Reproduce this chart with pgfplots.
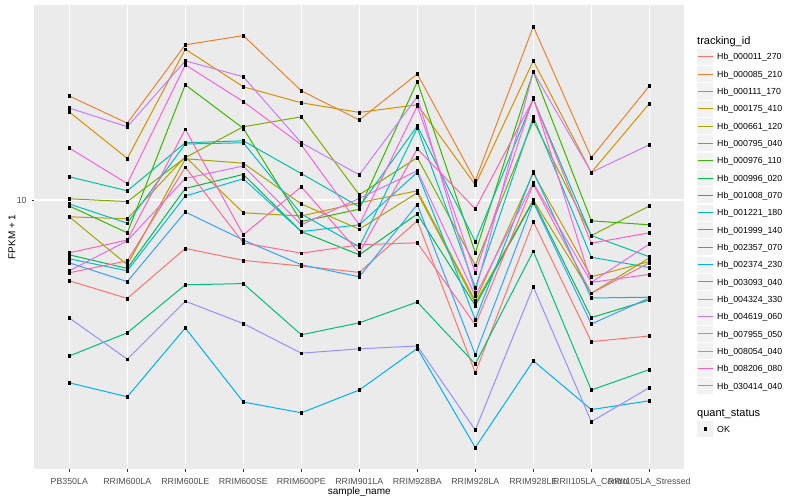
\documentclass[border=0pt]{standalone}
\usepackage{pgfplots}
\pgfplotsset{compat=1.18}
\usepackage{pgfplotstable}
\usepackage{fontspec}
\setmainfont{Liberation Sans}

% ggplot hue palette, 20 levels
\definecolor{c1}{HTML}{F8766D}
\definecolor{c2}{HTML}{EA8331}
\definecolor{c3}{HTML}{D89000}
\definecolor{c4}{HTML}{C09B00}
\definecolor{c5}{HTML}{A3A500}
\definecolor{c6}{HTML}{7CAE00}
\definecolor{c7}{HTML}{39B600}
\definecolor{c8}{HTML}{00BB4E}
\definecolor{c9}{HTML}{00BF7D}
\definecolor{c10}{HTML}{00C1A3}
\definecolor{c11}{HTML}{00BFC4}
\definecolor{c12}{HTML}{00BAE0}
\definecolor{c13}{HTML}{00B0F6}
\definecolor{c14}{HTML}{35A2FF}
\definecolor{c15}{HTML}{9590FF}
\definecolor{c16}{HTML}{C77CFF}
\definecolor{c17}{HTML}{E76BF3}
\definecolor{c18}{HTML}{FA62DB}
\definecolor{c19}{HTML}{FF62BC}
\definecolor{c20}{HTML}{FF6C91}
\definecolor{panelbg}{HTML}{EBEBEB}
\definecolor{keybg}{HTML}{F2F2F2}
\definecolor{ticktext}{HTML}{4D4D4D}
\definecolor{tickmark}{HTML}{333333}

% log10(FPKM + 1), one column per tracking_id, one row per sample
\pgfplotstableread{
x  s1    s2    s3    s4    s5    s6    s7    s8    s9    s10   s11   s12   s13   s14   s15   s16   s17   s18   s19   s20
0  0.798 1.260 1.220 0.958 0.958 1.003 0.985 0.863 0.610 1.058 0.990 0.853 0.543 0.843 0.705 1.230 0.823 1.130 0.868 0.818
1  0.754 1.192 1.104 0.953 0.838 0.996 0.918 0.829 0.668 1.023 0.942 0.823 0.508 0.796 0.602 1.183 0.898 1.041 0.900 0.848
2  0.879 1.388 1.377 1.108 1.103 1.106 1.288 1.029 0.788 1.143 1.140 1.010 0.680 0.970 0.747 1.348 1.054 1.338 1.177 1.082
3  0.849 1.411 1.283 0.968 1.092 1.183 1.179 1.064 0.791 1.148 1.143 1.053 0.495 0.900 0.691 1.308 1.085 1.246 0.913 0.893
4  0.835 1.273 1.243 0.960 0.990 1.208 0.946 0.921 0.663 1.066 0.965 0.921 0.468 0.838 0.617 1.143 0.938 1.138 1.033 0.867
5  0.819 1.200 1.219 0.993 0.927 1.013 0.977 0.863 0.693 0.983 0.883 0.938 0.525 0.808 0.628 1.063 1.004 0.938 0.868 0.888
6  0.948 1.315 1.238 1.023 1.018 1.106 1.296 0.965 0.745 1.185 1.180 1.069 0.629 0.989 0.635 1.258 1.073 1.235 1.128 0.893
7  0.568 1.048 1.038 0.748 0.742 0.837 0.868 0.736 0.590 0.896 0.781 0.701 0.381 0.613 0.425 0.769 0.760 0.818 0.978 0.688
8  0.946 1.434 1.348 1.067 1.000 1.198 1.321 0.998 0.872 1.252 1.208 1.071 0.598 0.994 0.783 1.321 1.043 1.256 1.252 1.039
9  0.646 1.106 1.069 0.808 0.767 0.911 0.948 0.706 0.525 0.911 0.857 0.755 0.476 0.690 0.446 1.069 0.794 0.794 0.892 0.767
10 0.660 1.285 1.241 0.846 0.855 0.985 0.938 0.750 0.576 0.858 0.831 0.757 0.498 0.755 0.531 1.138 0.890 0.814 0.918 0.843
}\fpkm

\begin{document}
\begin{tikzpicture}
\useasboundingbox (0,0) rectangle (800pt,500pt);

\begin{axis}[
    at={(34.5pt,31pt)}, anchor=south west,
    scale only axis,
    width=649.6pt, height=464pt,
    xmin=-0.6, xmax=10.6,
    ymin=0.3275, ymax=1.4875,
    xtick={0,...,10},
    xticklabels={PB350LA, RRIM600LA, RRIM600LE, RRIM600SE, RRIM600PE, RRIM901LA,
                 RRIM928BA, RRIM928LA, RRIM928LE, RRII105LA\_Control, RRII105LA\_Stressed},
    ytick={1}, yticklabels={10},
    xtick pos=bottom, ytick pos=left,
    tick align=outside,
    major tick length=2.75pt,
    tick style={color=tickmark, line width=0.8pt},
    ticklabel style={font=\fontsize{8.8}{10}\selectfont, text=ticktext},
    xticklabel style={anchor=base, yshift=-12.5pt},
    yticklabel style={anchor=east, inner sep=0pt, xshift=-5pt},
    axis line style={draw=none},
    axis background/.style={fill=panelbg},
    grid=major,
    major grid style={white, line width=1.1pt},
    xlabel={sample\_name},
    ylabel={FPKM + 1},
    label style={font=\fontsize{11}{13}\selectfont},
    every axis x label/.style={at={(axis description cs:0.5,-0.0539)}, anchor=base},
    every axis y label/.style={at={(axis description cs:-0.0346,0.5)}, rotate=90, anchor=center},
]

\addplot[c1,  line width=1pt] table[x=x, y=s1]  {\fpkm};
\addplot[c2,  line width=1pt] table[x=x, y=s2]  {\fpkm};
\addplot[c3,  line width=1pt] table[x=x, y=s3]  {\fpkm};
\addplot[c4,  line width=1pt] table[x=x, y=s4]  {\fpkm};
\addplot[c5,  line width=1pt] table[x=x, y=s5]  {\fpkm};
\addplot[c6,  line width=1pt] table[x=x, y=s6]  {\fpkm};
\addplot[c7,  line width=1pt] table[x=x, y=s7]  {\fpkm};
\addplot[c8,  line width=1pt] table[x=x, y=s8]  {\fpkm};
\addplot[c9,  line width=1pt] table[x=x, y=s9]  {\fpkm};
\addplot[c10, line width=1pt] table[x=x, y=s10] {\fpkm};
\addplot[c11, line width=1pt] table[x=x, y=s11] {\fpkm};
\addplot[c12, line width=1pt] table[x=x, y=s12] {\fpkm};
\addplot[c13, line width=1pt] table[x=x, y=s13] {\fpkm};
\addplot[c14, line width=1pt] table[x=x, y=s14] {\fpkm};
\addplot[c15, line width=1pt] table[x=x, y=s15] {\fpkm};
\addplot[c16, line width=1pt] table[x=x, y=s16] {\fpkm};
\addplot[c17, line width=1pt] table[x=x, y=s17] {\fpkm};
\addplot[c18, line width=1pt] table[x=x, y=s18] {\fpkm};
\addplot[c19, line width=1pt] table[x=x, y=s19] {\fpkm};
\addplot[c20, line width=1pt] table[x=x, y=s20] {\fpkm};

% points on top of all lines
\pgfplotsinvokeforeach{1,...,20}{
    \addplot[only marks, mark=square*, mark size=1.35pt, black]
        table[x=x, y=s#1] {\fpkm};
}
\end{axis}

% legend: tracking_id
\node[anchor=base west, font=\fontsize{11}{13}\selectfont, inner sep=0pt] at (697pt,455.3pt) {tracking\_id};
\foreach \c/\t [count=\i from 0] in {
    c1/Hb\_000011\_270, c2/Hb\_000085\_210, c3/Hb\_000111\_170, c4/Hb\_000175\_410,
    c5/Hb\_000661\_120, c6/Hb\_000795\_040, c7/Hb\_000976\_110, c8/Hb\_000996\_020,
    c9/Hb\_001008\_070, c10/Hb\_001221\_180, c11/Hb\_001999\_140, c12/Hb\_002357\_070,
    c13/Hb\_002374\_230, c14/Hb\_003093\_040, c15/Hb\_004324\_330, c16/Hb\_004619\_060,
    c17/Hb\_007955\_050, c18/Hb\_008054\_040, c19/Hb\_008206\_080, c20/Hb\_030414\_040} {
    \pgfmathsetmacro\yc{443.3-17.33*\i}
    \pgfmathsetmacro\ya{\yc-8.15}
    \pgfmathsetmacro\yb{\yc+8.15}
    \pgfmathsetmacro\yt{\yc-3.15}
    \fill[keybg] (697pt,\ya pt) rectangle (713.3pt,\yb pt);
    \draw[\c, line width=1pt] (697.5pt,\yc pt) -- (712.8pt,\yc pt);
    \node[anchor=base west, inner sep=0pt, font=\fontsize{8.8}{10}\selectfont] at (717pt,\yt pt) {\t};
}

% legend: quant_status
\node[anchor=base west, font=\fontsize{11}{13}\selectfont, inner sep=0pt] at (697pt,83.7pt) {quant\_status};
\fill[keybg] (697pt,62.85pt) rectangle (713.3pt,79.15pt);
\fill[black] (703.5pt,69.4pt) rectangle (706.8pt,72.6pt);
\node[anchor=base west, inner sep=0pt, font=\fontsize{8.8}{10}\selectfont] at (717pt,67.85pt) {OK};
\end{tikzpicture}
\end{document}
